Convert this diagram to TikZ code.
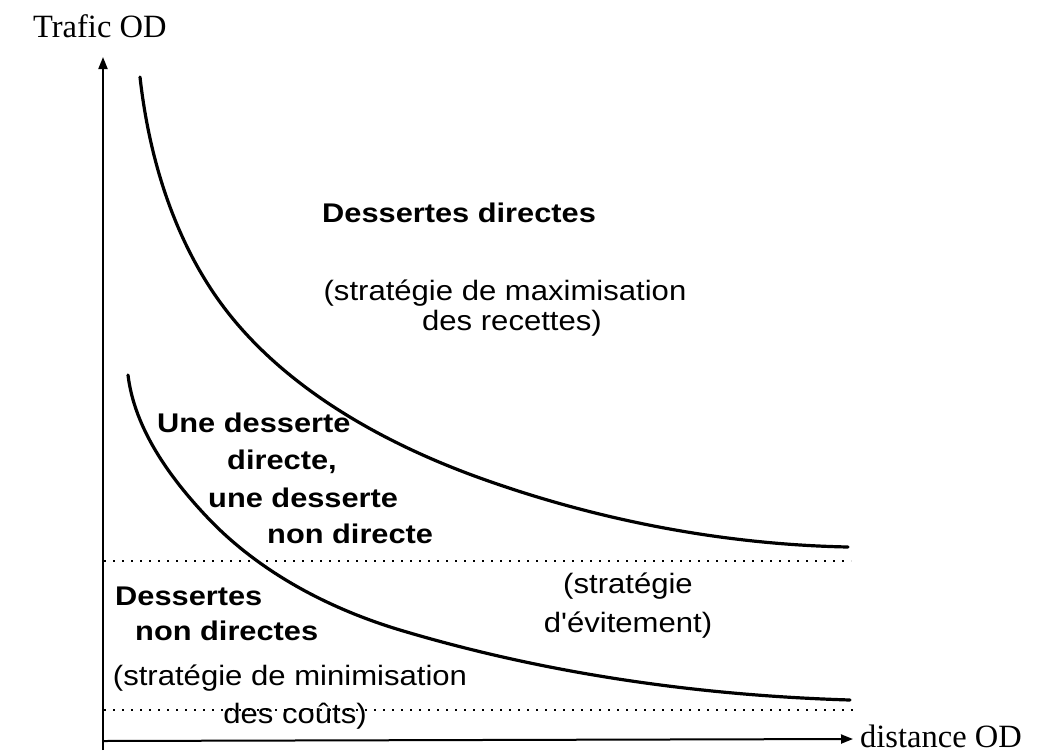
\documentclass[tikz,border=0pt]{standalone}
\usepackage{fontspec}
\setmainfont{Liberation Serif}
\newfontfamily\sfr[FakeStretch=1.11]{Liberation Sans}
\newfontfamily\sfb[FakeStretch=1.14]{Liberation Sans Bold}
\usetikzlibrary{arrows.meta}
\tikzset{
  axis/.style={line width=2pt,-{Triangle[length=12pt,width=9pt]}},
  curve/.style={line width=3.2pt,line cap=round},
  limit/.style={line width=2pt,dash pattern=on 2pt off 7pt},
  serlabel/.style={inner sep=0pt,font=\fontsize{32.5}{36}\selectfont},
  boldtxt/.style={inner sep=0pt,anchor=base west,font=\sfb\fontsize{27}{30}\selectfont},
  regtxt/.style={inner sep=0pt,anchor=base,font=\sfr\fontsize{28}{30}\selectfont},
}
\begin{document}
\begin{tikzpicture}[x=1pt,y=-1pt]
\useasboundingbox (0,0) rectangle (1052,753);
% axes
\coordinate (O) at (103,741);
\coordinate (ytip) at (103,57);
\coordinate (xtip) at (853,739);
\coordinate (ybot) at (103,750);
\draw[line width=2pt] (ybot) -- (O);
\draw[axis] (O) -- (ytip);
\draw[axis] (O) -- (xtip);
\node[serlabel,anchor=base west] (ylab) at (33,37) {Trafic OD};
\node[serlabel,anchor=base west] (xlab) at (860,747) {distance OD};
% limits (dotted)
\coordinate (d1a) at (104,561);
\coordinate (d1b) at (851,561);
\coordinate (d2a) at (104,710);
\coordinate (d2b) at (856,710);
\draw[limit] (d1a) -- (d1b);
\draw[limit] (d2a) -- (d2b);
% upper curve
\coordinate (a0) at (140,77);
\coordinate (a1) at (215,295);
\coordinate (a2) at (480,478);
\coordinate (a3) at (848,547);
\draw[curve] (a0) .. controls (148.5,153.5) and (171.5,231.5) .. (a1)
  .. controls (275.5,383.3) and (379.3,441.8) .. (a2)
  .. controls (597.6,520.3) and (723,544.5) .. (a3);
% lower curve
\coordinate (b0) at (128,375);
\coordinate (b1) at (207,517);
\coordinate (b2) at (400,630);
\coordinate (b3) at (850,700);
\draw[curve] (b0) .. controls (134.4,428.6) and (169.9,477.7) .. (b1)
  .. controls (258.5,571.6) and (328.2,608.4) .. (b2)
  .. controls (545.6,673.7) and (698,695.4) .. (b3);
% texts
\node[boldtxt] (t1) at (322,222) {Dessertes directes};
\node[regtxt] (t2) at (505,300) {(stratégie de maximisation};
\node[regtxt] (t3) at (512,330) {des recettes)};
\node[boldtxt] (u1) at (157,432) {Une desserte};
\node[boldtxt] (u2) at (227,469) {directe,};
\node[boldtxt] (u3) at (208,507) {une desserte};
\node[boldtxt] (u4) at (267,543) {non directe};
\node[boldtxt] (n1) at (115,605) {Dessertes};
\node[boldtxt] (n2) at (135,640) {non directes};
\node[regtxt] (m1) at (290,685) {(stratégie de minimisation};
\node[regtxt] (m2) at (295,723) {des coûts)};
\node[regtxt] (e1) at (628,593) {(stratégie};
\node[regtxt] (e2) at (628,632) {d'évitement)};
\end{tikzpicture}
\end{document}
